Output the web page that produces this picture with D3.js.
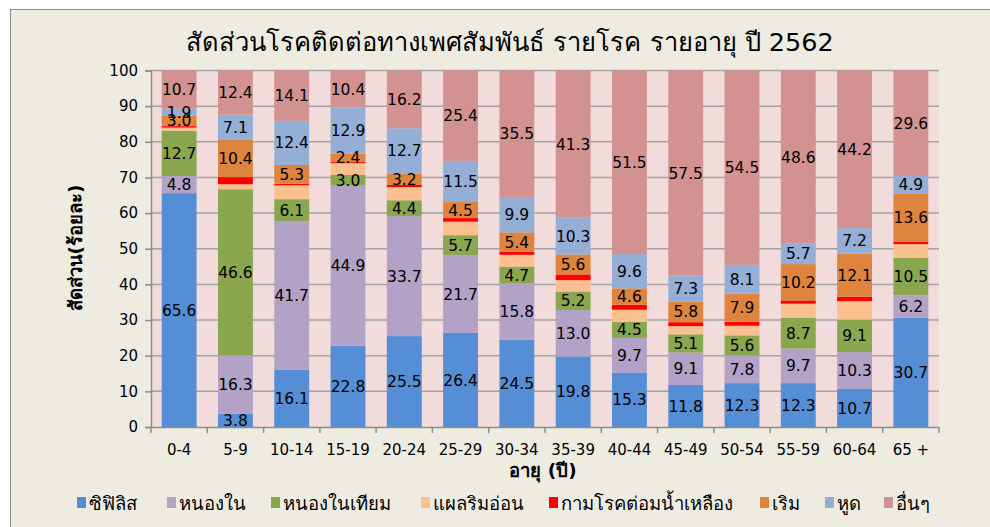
<!DOCTYPE html>
<html><head><meta charset="utf-8">
<script src="https://cdn.jsdelivr.net/npm/d3@7/dist/d3.min.js"></script>
<style>body{margin:0;background:#fff;} svg{display:block;}</style>
</head><body>
<svg id="c" width="990" height="527"></svg>
<script>
const title = "สัดส่วนโรคติดต่อทางเพศสัมพันธ์ รายโรค รายอายุ ปี 2562";
const yTitle = "สัดส่วน(ร้อยละ)";
const xTitle = "อายุ (ปี)";
const categories = ["0-4","5-9","10-14","15-19","20-24","25-29","30-34","35-39","40-44","45-49","50-54","55-59","60-64","65 +"];
const seriesNames = ["ซิฟิลิส","หนองใน","หนองในเทียม","แผลริมอ่อน","กามโรคต่อมน้ำเหลือง","เริม","หูด","อื่นๆ"];
const seriesColors = ["#558ED5","#B3A2C7","#8AA64F","#FAC090","#FF0000","#DE843E","#95AED6","#D39292"];
const showLabels = [true,true,true,false,false,true,true,true];
const syphilis    = [65.6, 3.8,16.1,22.8,25.5,26.4,24.5,19.8,15.3,11.8,12.3,12.3,10.7,30.7];
const gonorrhea   = [ 4.8,16.3,41.7,44.9,33.7,21.7,15.8,13.0, 9.7, 9.1, 7.8, 9.7,10.3, 6.2];
const ngu         = [12.7,46.6, 6.1, 3.0, 4.4, 5.7, 4.7, 5.2, 4.5, 5.1, 5.6, 8.7, 9.1,10.5];
const chancroid   = [ 0.9, 1.4, 3.9, 3.3, 3.7, 3.8, 3.3, 3.2, 3.4, 2.3, 2.7, 3.9, 5.2, 3.9];
const lgv         = [ 0.4, 2.0, 0.4, 0.3, 0.6, 1.0, 0.9, 1.6, 1.4, 1.1, 1.1, 0.9, 1.2, 0.6];
const herpes      = [ 3.0,10.4, 5.3, 2.4, 3.2, 4.5, 5.4, 5.6, 4.6, 5.8, 7.9,10.2,12.1,13.6];
const warts       = [ 1.9, 7.1,12.4,12.9,12.7,11.5, 9.9,10.3, 9.6, 7.3, 8.1, 5.7, 7.2, 4.9];
const others      = [10.7,12.4,14.1,10.4,16.2,25.4,35.5,41.3,51.5,57.5,54.5,48.6,44.2,29.6];
const yTicks = [0,10,20,30,40,50,60,70,80,90,100];

const seriesValues = [syphilis,gonorrhea,ngu,chancroid,lgv,herpes,warts,others];
const rows = categories.map((c,i)=>{const o={cat:c}; seriesNames.forEach((s,j)=>o[s]=seriesValues[j][i]); return o;});
const stacked = d3.stack().keys(seriesNames)(rows);

const svg = d3.select("#c");
const FONT = "Tahoma, 'DejaVu Sans', 'Noto Sans', sans-serif";
// chart area frame
svg.append("rect").attr("x",10.5).attr("y",9.5).attr("width",1010).attr("height",540)
  .attr("fill","#EEECE1").attr("stroke","#8C8C8C").attr("stroke-width",1);

const L=151, R=939, T=70.5, B=427;
const x = d3.scaleBand().domain(categories).range([L,R]).paddingInner(0.38).paddingOuter(0.19);
const y = d3.scaleLinear().domain([0,100]).range([B,T]);

svg.append("rect").attr("x",L).attr("y",T).attr("width",R-L).attr("height",B-T).attr("fill","#F2DCDB");
// gridlines
svg.append("g").selectAll("line").data(yTicks.filter(d=>d>0)).join("line")
  .attr("x1",L).attr("x2",R).attr("y1",d=>y(d)).attr("y2",d=>y(d))
  .attr("stroke","#A3A3A3").attr("stroke-width",1.5);

// bars
const g = svg.append("g");
stacked.forEach((s,j)=>{
  g.append("g").selectAll("rect").data(s).join("rect")
    .attr("x",d=>x(d.data.cat)).attr("width",x.bandwidth())
    .attr("y",d=>y(d[1])).attr("height",d=>y(d[0])-y(d[1]))
    .attr("fill",seriesColors[j]);
});
// labels
stacked.forEach((s,j)=>{
  if(!showLabels[j]) return;
  g.append("g").selectAll("text").data(s).join("text")
    .attr("x",d=>x(d.data.cat)+x.bandwidth()/2)
    .attr("y",d=>(y(d[0])+y(d[1]))/2)
    .attr("dy","0.36em").attr("text-anchor","middle")
    .attr("font-family",FONT).attr("font-size",15.5).attr("fill","#000")
    .text(d=>(d[1]-d[0]).toFixed(1));
});

// y axis
const ya = svg.append("g").attr("transform",`translate(${L},0)`)
  .call(d3.axisLeft(y).tickValues(yTicks).tickSize(6).tickPadding(7).tickFormat(d3.format("d")));
ya.select(".domain").attr("stroke","#8C8C8C").attr("stroke-width",1.5);
ya.selectAll(".tick line").attr("stroke","#8C8C8C").attr("stroke-width",1.5);
ya.selectAll("text").attr("font-family",FONT).attr("font-size",15).attr("fill","#000");

// x axis
const xa = svg.append("g").attr("transform",`translate(0,${B})`)
  .call(d3.axisBottom(x).tickSize(0).tickPadding(17));
xa.select(".domain").attr("stroke","#8C8C8C").attr("stroke-width",1.5);
xa.selectAll("text").attr("font-family",FONT).attr("font-size",15).attr("fill","#000");
const bounds = d3.range(categories.length+1).map(i=>L+i*(R-L)/categories.length);
xa.append("g").selectAll("line").data(bounds).join("line")
  .attr("x1",d=>d).attr("x2",d=>d).attr("y1",0).attr("y2",6)
  .attr("stroke","#8C8C8C").attr("stroke-width",1.5);

// titles
svg.append("text").attr("x",510).attr("y",51).attr("text-anchor","middle")
  .attr("font-family",FONT).attr("font-size",25.5).attr("fill","#000").text(title);
svg.append("text").attr("transform","translate(82,248) rotate(-90)").attr("text-anchor","middle")
  .attr("font-family",FONT).attr("font-size",18.5).attr("font-weight","bold").attr("fill","#000").text(yTitle);
svg.append("text").attr("x",543).attr("y",477).attr("text-anchor","middle")
  .attr("font-family",FONT).attr("font-size",18.5).attr("font-weight","bold").attr("fill","#000").text(xTitle);

// legend
const legX = [77,167,271,421,549,760,825,884];
const leg = svg.append("g").selectAll("g").data(seriesNames).join("g")
  .attr("transform",(d,i)=>`translate(${legX[i]},503)`);
leg.append("rect").attr("x",0).attr("y",-6).attr("width",9).attr("height",11).attr("fill",(d,i)=>seriesColors[i]);
leg.append("text").attr("x",12).attr("y",0).attr("dy","0.36em")
  .attr("font-family",FONT).attr("font-size",18.5).attr("fill","#000").text(d=>d);
</script>
</body></html>
